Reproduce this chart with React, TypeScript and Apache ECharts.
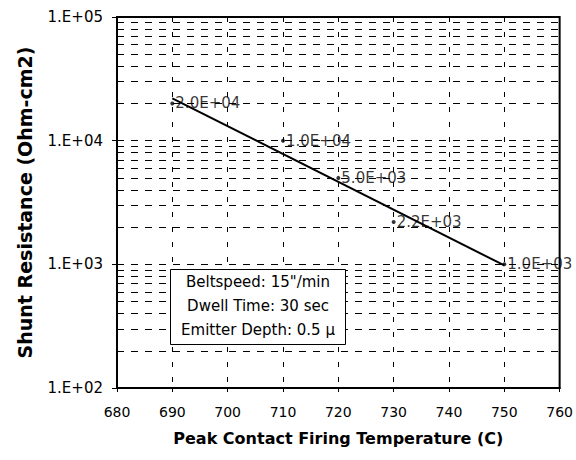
import React, { useEffect, useRef } from "react";
import * as echarts from "echarts";

const temperatures = [690, 710, 720, 730, 750];
const resistance = [20000, 10000, 5000, 2200, 1000];
const pointLabels = ["2.0E+04", "1.0E+04", "5.0E+03", "2.2E+03", "1.0E+03"];
const trendX = [690, 750];
const trendY = [22000, 980];
const minorGrid = [
  200, 300, 400, 500, 600, 700, 800, 900,
  2000, 3000, 4000, 5000, 6000, 7000, 8000, 9000,
  20000, 30000, 40000, 50000, 60000, 70000, 80000, 90000,
];
const noteLines = ["Beltspeed: 15\"/min", "Dwell Time: 30 sec", "Emitter Depth: 0.5 \u03bc"];

const FONT = "DejaVu Sans";

export default function App() {
  const ref = useRef<HTMLDivElement>(null);
  useEffect(() => {
    if (!ref.current) return;
    const chart = echarts.init(ref.current, undefined, { renderer: "svg" });
    const dashH = { type: [7, 7] as any, color: "#000", width: 1 };
    chart.setOption({
      animation: false,
      backgroundColor: "#fff",
      textStyle: { fontFamily: FONT, color: "#000" },
      grid: {
        left: 117,
        top: 17,
        right: 16,
        bottom: 72,
        show: true,
        borderColor: "#000",
        borderWidth: 2,
        backgroundColor: "transparent",
      },
      xAxis: {
        type: "value",
        min: 680,
        max: 760,
        interval: 10,
        name: "Peak Contact Firing Temperature (C)",
        nameLocation: "middle",
        nameGap: 42,
        nameTextStyle: { fontFamily: FONT, fontSize: 16, fontWeight: "bold", color: "#000" },
        axisLine: { show: true, lineStyle: { color: "#000", width: 2 } },
        axisTick: { show: true, inside: false, length: 4, lineStyle: { color: "#000" } },
        axisLabel: { fontFamily: FONT, fontSize: 14, color: "#000", margin: 17 },
        splitLine: { show: true, lineStyle: { type: [5, 10] as any, color: "#000", width: 1 } },
      },
      yAxis: {
        type: "log",
        logBase: 10,
        min: 100,
        max: 100000,
        name: "Shunt Resistance (Ohm-cm2)",
        nameLocation: "middle",
        nameGap: 83,
        nameRotate: 90,
        nameTextStyle: { fontFamily: FONT, fontSize: 19, fontWeight: "bold", color: "#000" },
        axisLine: { show: true, lineStyle: { color: "#000", width: 2 } },
        axisTick: { show: true, inside: false, length: 5, lineStyle: { color: "#000" } },
        axisLabel: {
          fontFamily: FONT,
          fontSize: 15,
          color: "#000",
          margin: 14,
          formatter: (v: number) => "1.E+0" + Math.round(Math.log10(v)),
        },
        splitLine: { show: true, lineStyle: dashH },
      },
      series: [
        {
          type: "line",
          data: trendX.map((x, i) => [x, trendY[i]]),
          symbol: "none",
          lineStyle: { color: "#000", width: 2 },
          silent: true,
          z: 3,
          markLine: {
            silent: true,
            symbol: ["none", "none"],
            label: { show: false },
            lineStyle: dashH,
            data: minorGrid.map((v) => ({ yAxis: v })),
            z: 1,
          },
        },
        {
          type: "scatter",
          data: temperatures.map((x, i) => [x, resistance[i]]),
          symbol: "circle",
          symbolSize: 4,
          itemStyle: { color: "#000" },
          z: 4,
          label: {
            show: true,
            position: "right",
            distance: 1,
            fontFamily: FONT,
            fontSize: 15,
            color: "#000",
            formatter: (p: any) => pointLabels[p.dataIndex],
          },
        },
      ],
      graphic: [
        {
          type: "rect",
          left: 170,
          top: 269,
          z: 100,
          shape: { x: 0, y: 0, width: 175, height: 75 },
          style: { fill: "#fff", stroke: "#000", lineWidth: 1 },
        },
        ...noteLines.map((t, i) => ({
          type: "text",
          x: 258,
          y: 282 + i * 24,
          z: 101,
          style: {
            text: t,
            fontFamily: FONT,
            fontSize: 15,
            fill: "#000",
            align: "center",
            verticalAlign: "middle",
          },
        })),
      ],
    });
    return () => chart.dispose();
  }, []);
  return (
    <div
      ref={ref}
      style={{ position: "fixed", left: 0, top: 0, width: 576, height: 460, background: "#fff" }}
    />
  );
}
